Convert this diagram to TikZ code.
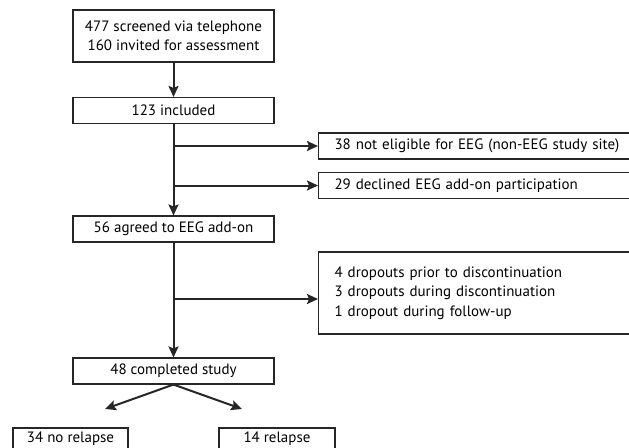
\documentclass[tikz,border=0pt]{standalone}
\usepackage{fontspec}
\setmainfont{PT Sans}
\usetikzlibrary{arrows.meta,calc}
\begin{document}
\begin{tikzpicture}[x=1pt,y=-1pt,
  box/.style={draw=black!85,line width=1.1pt,rectangle,inner sep=0pt,font=\fontsize{15}{19.5}\selectfont},
  cbox/.style={box,align=center},
  rbox/.style={box,minimum width=312pt,anchor=west,align=left,text width=290pt,inner xsep=16pt},
  conn/.style={line width=2pt,draw=black!85},
  arr/.style={conn,-{Stealth[length=11pt,width=10pt,inset=2pt]}}]
\useasboundingbox (0,0) rectangle (629,447);
\clip (0,0) rectangle (629,447);
\node[cbox,minimum width=201pt,minimum height=52pt] (b1) at (173.5,36) {477 screened via telephone\\160 invited for assessment};
\node[cbox,minimum width=201pt,minimum height=26pt] (b2) at (173.5,110.5) {123 included};
\node[cbox,minimum width=201pt,minimum height=26pt] (b3) at (173.5,229) {56 agreed to EEG add-on};
\node[cbox,minimum width=201pt,minimum height=26pt] (b4) at (173.5,371) {48 completed study};
\node[rbox,minimum height=26pt] (r1) at (318,146) {38 not eligible for EEG (non-EEG study site)};
\node[rbox,minimum height=26pt] (r2) at (318,185.5) {29 declined EEG add-on participation};
\node[rbox,minimum height=82pt] (r3) at (318,293) {4 dropouts prior to discontinuation\\3 dropouts during discontinuation\\1 dropout during follow-up};
\node[cbox,minimum width=115pt,minimum height=22pt] (c1) at (70.5,439) {34 no relapse};
\node[cbox,minimum width=116pt,minimum height=22pt] (c2) at (277,439) {14 relapse};
\draw[arr] (b1.south) -- (b2.north);
\draw[arr] (b2.south) -- (b3.north);
\draw[arr] (b3.south) -- (b4.north);
\draw[arr] (b2.south |- r1.west) -- (r1.west);
\draw[arr] (b2.south |- r2.west) -- (r2.west);
\coordinate (j3) at (173.5,299);
\draw[arr] (j3) -- (r3.west |- j3);
\coordinate (t1) at (105,409);
\coordinate (t2) at (242,409);
\draw[arr] (b4.south) -- (t1);
\draw[arr] (b4.south) -- (t2);
\end{tikzpicture}
\end{document}
